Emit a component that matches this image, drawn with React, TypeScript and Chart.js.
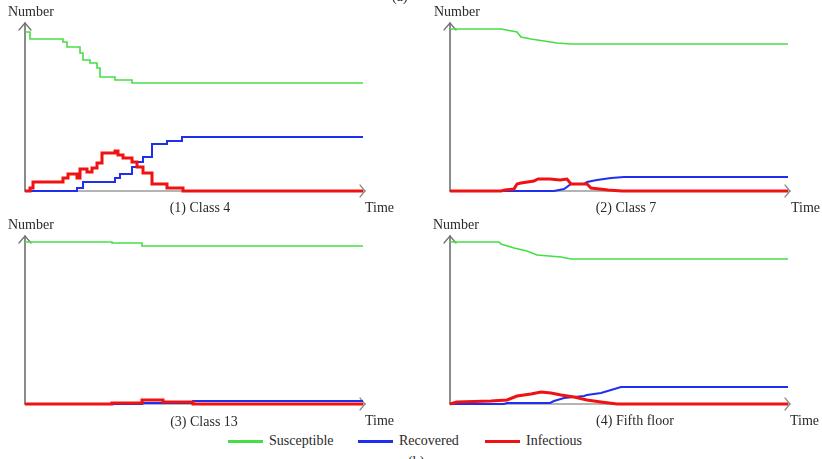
import React, { useEffect, useRef } from "react";
import { Chart, registerables } from "chart.js";

Chart.register(...registerables);

// ---- Data (time, number) ----
const class4Susceptible = [[0,159],[5,152],[38,149],[42,144],[55,138],[58,131],[65,128],[72,123],[75,114],[90,111],[107,108],[338,108]];
const class4Recovered = [[0,0],[52,3],[58,9],[90,13],[95,17],[107,24],[112,29],[118,34],[127,47],[142,50],[157,54],[338,54]];
const class4Infectious = [[0,0],[5,3],[8,9],[38,13],[43,17],[52,13],[55,22],[62,19],[67,23],[72,28],[77,38],[90,40],[93,36],[98,33],[107,29],[112,24],[118,18],[127,7],[142,3],[158,0],[338,0]];

const class7Susceptible = [[0,162],[51,162],[67,159],[71,154],[81,152],[94,150],[107,148],[121,147],[338,147]];
const class7Recovered = [[0,0],[104,0],[114,2],[121,7],[134,7],[137,9],[147,11],[161,13],[174,14],[338,14]];
const class7Infectious = [[0,0],[51,0],[55,1],[64,2],[67,7],[71,8],[84,10],[88,12],[100,12],[110,11],[117,12],[121,7],[137,7],[141,3],[158,1],[172,0],[338,0]];

const class13Susceptible = [[0,162],[87,161],[117,158],[338,158]];
const class13Recovered = [[0,0],[117,1],[168,3],[338,3]];
const class13Infectious = [[0,0],[87,1],[117,4],[138,2],[168,0],[338,0]];

const floor5Susceptible = [[0,162],[49,162],[51,160],[64,156],[77,153],[87,149],[111,147],[121,145],[338,145]];
const floor5Recovered = [[0,0],[54,0],[57,1],[100,1],[104,3],[114,6],[134,8],[137,9],[151,11],[171,17],[338,17]];
const floor5Infectious = [[0,0],[7,2],[41,3],[57,4],[67,8],[81,10],[91,12],[101,11],[111,9],[124,7],[137,4],[151,2],[167,0],[338,0]];

const panelTitles = ["(1) Class 4", "(2) Class 7", "(3) Class 13", "(4) Fifth floor"];
const seriesNames = ["Susceptible", "Recovered", "Infectious"];
const axisLabelY = "Number";
const axisLabelX = "Time";
const timeMax = 340;
const numberMax = 170;

const COLORS = { Susceptible: "#45de45", Recovered: "#1f2ff0", Infectious: "#f01212" };
const WIDTHS = { Susceptible: 1.6, Recovered: 2, Infectious: 3 };

const FONT = '"Liberation Serif", "Times New Roman", serif';

const axesPlugin = {
  id: "arrowAxes",
  beforeDatasetsDraw(chart: any) {
    const { ctx, chartArea } = chart;
    const { left, right, bottom } = chartArea;
    const yTop = chart.scales.y.getPixelForValue(168);
    ctx.save();
    ctx.lineCap = "round";
    // x axis
    ctx.strokeStyle = "#b4b4b4";
    ctx.lineWidth = 2;
    ctx.beginPath();
    ctx.moveTo(left, bottom);
    ctx.lineTo(right, bottom);
    ctx.stroke();
    ctx.strokeStyle = "#8a8a8a";
    ctx.lineWidth = 1.2;
    ctx.beginPath();
    ctx.moveTo(right - 5, bottom - 6);
    ctx.lineTo(right, bottom);
    ctx.lineTo(right - 5, bottom + 6);
    ctx.stroke();
    // y axis
    ctx.strokeStyle = "#6e6e6e";
    ctx.lineWidth = 1.6;
    ctx.beginPath();
    ctx.moveTo(left, bottom);
    ctx.lineTo(left, yTop);
    ctx.stroke();
    ctx.lineWidth = 1.2;
    ctx.beginPath();
    ctx.moveTo(left - 6, yTop + 7);
    ctx.lineTo(left, yTop);
    ctx.lineTo(left + 6, yTop + 7);
    ctx.stroke();
    ctx.restore();
  },
};

type Pt = number[];

function Panel(props: { left: number; top: number; series: Pt[][]; stepped: boolean }) {
  const ref = useRef<HTMLCanvasElement>(null);
  useEffect(() => {
    const canvas = ref.current!;
    const chart = new Chart(canvas, {
      type: "line",
      data: {
        datasets: seriesNames.map((name, i) => ({
          label: name,
          data: props.series[i].map((p) => ({ x: p[0], y: p[1] })),
          borderColor: (COLORS as any)[name],
          backgroundColor: (COLORS as any)[name],
          borderWidth: (WIDTHS as any)[name],
          pointRadius: 0,
          tension: 0,
          stepped: props.stepped,
          clip: false as any,
          order: 3 - i,
        })),
      },
      options: {
        responsive: false,
        animation: false,
        devicePixelRatio: 1,
        layout: { padding: { left: 25, right: 32, top: 21, bottom: 24 } },
        plugins: { legend: { display: false }, tooltip: { enabled: false }, title: { display: false } },
        scales: {
          x: { type: "linear", min: 0, max: timeMax, display: false },
          y: { type: "linear", min: 0, max: numberMax, display: false },
        },
        events: [],
      },
      plugins: [axesPlugin],
    } as any);
    return () => chart.destroy();
  }, []);
  return (
    <canvas
      ref={ref}
      width={397}
      height={215}
      style={{ position: "absolute", left: props.left, top: props.top, width: 397, height: 215 }}
    />
  );
}

function Label(props: { text: string; x: number; y: number; center?: boolean }) {
  return (
    <div
      style={{
        position: "absolute",
        left: props.x,
        top: props.y - 8,
        fontFamily: FONT,
        fontSize: 14,
        lineHeight: "16px",
        color: "#2a2a2a",
        whiteSpace: "nowrap",
        transform: props.center ? "translateX(-50%)" : undefined,
      }}
    >
      {props.text}
    </div>
  );
}

function LegendItem(props: { name: string; x: number; y: number }) {
  return (
    <div style={{ position: "absolute", left: props.x, top: props.y - 8, display: "flex", alignItems: "center", height: 16 }}>
      <div style={{ width: 35, height: 3, background: (COLORS as any)[props.name], marginRight: 6 }} />
      <span style={{ fontFamily: FONT, fontSize: 14, lineHeight: "16px", color: "#2a2a2a", whiteSpace: "nowrap" }}>{props.name}</span>
    </div>
  );
}

export default function App() {
  return (
    <div style={{ position: "fixed", left: 0, top: 0, width: 822, height: 459, background: "#fff", overflow: "hidden" }}>
      <Panel left={0} top={0} stepped={true} series={[class4Susceptible, class4Recovered, class4Infectious]} />
      <Panel left={425} top={0} stepped={false} series={[class7Susceptible, class7Recovered, class7Infectious]} />
      <Panel left={0} top={213} stepped={true} series={[class13Susceptible, class13Recovered, class13Infectious]} />
      <Panel left={425} top={213} stepped={false} series={[floor5Susceptible, floor5Recovered, floor5Infectious]} />

      <Label text="(a)" x={392} y={-3} />
      <Label text={axisLabelY} x={8} y={12} />
      <Label text={axisLabelY} x={434} y={12} />
      <Label text={axisLabelY} x={8} y={225} />
      <Label text={axisLabelY} x={433} y={225} />

      <Label text={axisLabelX} x={365} y={208} />
      <Label text={axisLabelX} x={791} y={208} />
      <Label text={axisLabelX} x={365} y={421} />
      <Label text={axisLabelX} x={790} y={421} />

      <Label text={panelTitles[0]} x={200} y={208} center />
      <Label text={panelTitles[1]} x={626} y={208} center />
      <Label text={panelTitles[2]} x={204} y={422} center />
      <Label text={panelTitles[3]} x={635} y={421} center />

      <LegendItem name={seriesNames[0]} x={228} y={441} />
      <LegendItem name={seriesNames[1]} x={358} y={441} />
      <LegendItem name={seriesNames[2]} x={485} y={441} />
      <Label text="(b)" x={408} y={462} />
    </div>
  );
}
